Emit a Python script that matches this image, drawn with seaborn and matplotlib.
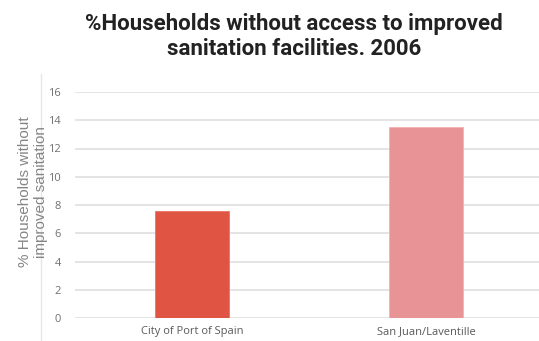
import matplotlib
matplotlib.use("Agg")
import matplotlib.pyplot as plt
import seaborn as sns
import pandas as pd
from matplotlib.lines import Line2D

categories = ["City of Port of Spain", "San Juan/Laventille"]
values = [7.6, 13.5]
colors = ["#E05444", "#E89496"]
yticks = [0, 2, 4, 6, 8, 10, 12, 14, 16]

df = pd.DataFrame({"area": categories, "pct": values})

sns.set_style("white")
fig = plt.figure(figsize=(5.39, 3.41), dpi=100)
ax = fig.add_axes([75/539, 1-318/341, 464/539, (318-92)/341])

sns.barplot(data=df, x="area", y="pct", hue="area", palette=colors,
            width=0.32, ax=ax, legend=False, saturation=1,
            linewidth=0, zorder=3)
for p, ec in zip(ax.patches, ["#EC7A6C", "#F2B4B4"]):
    p.set_edgecolor(ec)
    p.set_linewidth(0.7)

ax.set_xlim(-0.5, 1.483)
ax.set_ylim(0, 16)
ax.set_yticks(yticks)
ax.set_yticklabels([str(v) for v in yticks], fontsize=8, color="#707070",
                   family="Open Sans")
ax.tick_params(axis="y", length=0, pad=10)
ax.tick_params(axis="x", length=0, pad=6)
for lbl in ax.get_xticklabels():
    lbl.set_fontsize(8)
    lbl.set_color("#595959")
    lbl.set_family("Open Sans")
ax.grid(axis="y", color="#E2E2E2", linewidth=1.3, zorder=0)
for s in ax.spines.values():
    s.set_visible(False)
ax.set_xlabel("")
ax.set_ylabel("")

fig.text(33/539, 1-192/341, "% Households without\nimproved sanitation",
         rotation=90, ha="center", va="center", fontsize=11,
         color="#858585", family="Liberation Sans", linespacing=1.25)

fig.add_artist(Line2D([41/539, 41/539], [0, 1-74/341], color="#E6E6E6",
                      linewidth=1, transform=fig.transFigure))

fig.text(294/539, 1-36.5/341, "%Households without access to improved\nsanitation facilities. 2006",
         ha="center", va="center", fontsize=16, fontweight="bold",
         color="#222222", family="Roboto", linespacing=1.17)

fig.savefig("out.png", dpi=100)
